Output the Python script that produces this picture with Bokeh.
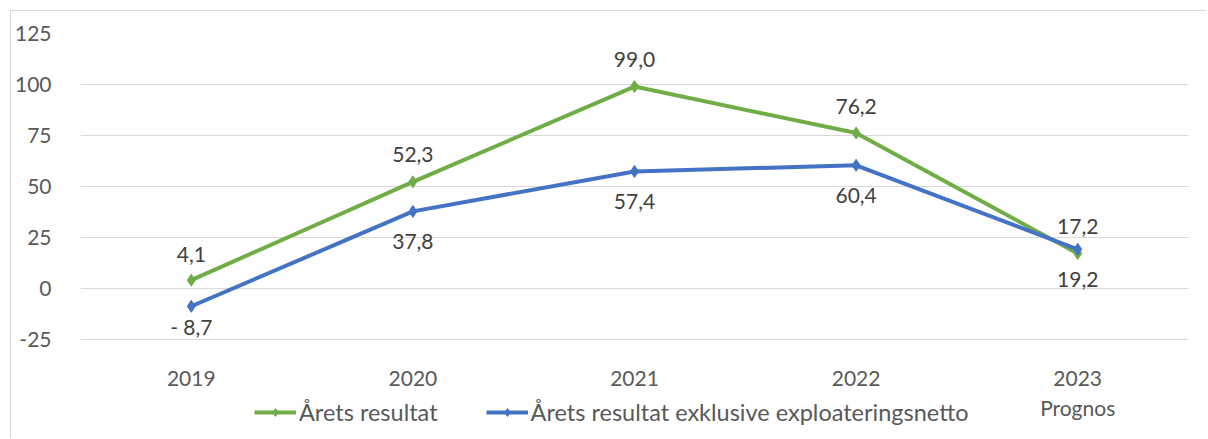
from bokeh.plotting import figure
from bokeh.models import ColumnDataSource, FixedTicker, Legend, LegendItem, Range1d
from bokeh.core.properties import value
from bokeh.embed import file_html
from bokeh.resources import INLINE

years = ["2019", "2020", "2021", "2022", "2023\nPrognos"]
arets_resultat = [4.1, 52.3, 99.0, 76.2, 17.2]
exkl_exploatering = [-8.7, 37.8, 57.4, 60.4, 19.2]
labels_green = ["4,1", "52,3", "99,0", "76,2", "17,2"]
labels_blue = ["- 8,7", "37,8", "57,4", "60,4", "19,2"]
y_ticks = [-25, 0, 25, 50, 75, 100, 125]

# label offsets (style, in screen pixels)
green_label_offsets = [-26, -27, -27, -27, -27]
blue_label_offsets = [20, 30, 30, 30, 30]

GREEN = "#70AD47"
BLUE = "#4472C4"
FONT = "Lato"
FS = "21px"

xs = list(range(len(years)))
src_g = ColumnDataSource(dict(x=xs, y=arets_resultat, t=labels_green, off=green_label_offsets))
src_b = ColumnDataSource(dict(x=xs, y=exkl_exploatering, t=labels_blue, off=blue_label_offsets))

p = figure(width=1196, height=428, output_backend="svg", toolbar_location=None,
           x_range=Range1d(-0.5, 4.5), y_range=Range1d(-74, 125),
           min_border_left=68, min_border_right=19, min_border_top=22, min_border_bottom=0,
           margin=(10, 0, 0, 10))
p.styles = {"border-top": "1px solid #d9d9d9", "border-left": "1px solid #d9d9d9"}
p.outline_line_color = None
p.background_fill_color = "white"

# axes
p.yaxis.ticker = FixedTicker(ticks=y_ticks)
p.yaxis.major_label_overrides = {t: str(t) for t in y_ticks}
p.yaxis.axis_line_color = None
p.yaxis.major_tick_line_color = None
p.yaxis.minor_tick_line_color = None
p.yaxis.major_label_text_font = FONT
p.yaxis.major_label_text_font_size = FS
p.yaxis.major_label_text_color = "#595959"
p.yaxis.major_label_standoff = 23

p.xaxis.fixed_location = y_ticks[0]
p.xaxis.ticker = FixedTicker(ticks=xs)
p.xaxis.major_label_overrides = {i: years[i] for i in xs}
p.xaxis.axis_line_color = None
p.xaxis.major_tick_line_color = None
p.xaxis.minor_tick_line_color = None
p.xaxis.major_label_text_font = FONT
p.xaxis.major_label_text_font_size = FS
p.xaxis.major_label_text_color = "#595959"
p.xaxis.major_label_standoff = 19

p.xgrid.grid_line_color = None
p.ygrid.grid_line_color = "#d9d9d9"
p.ygrid.grid_line_width = 1

# lines
lg = p.line("x", "y", source=src_g, line_color=GREEN, line_width=4)
mg = p.scatter("x", "y", source=src_g, marker="diamond", size=12, color=GREEN)
lb = p.line("x", "y", source=src_b, line_color=BLUE, line_width=4)
mb = p.scatter("x", "y", source=src_b, marker="diamond", size=12, color=BLUE)

# data labels
p.text("x", "y", text="t", source=src_g, text_align="center", text_baseline="middle",
       y_offset="off", text_font=value(FONT), text_font_size=FS, text_color="#404040")
p.text("x", "y", text="t", source=src_b, text_align="center", text_baseline="middle",
       y_offset="off", text_font=value(FONT), text_font_size=FS, text_color="#404040")

legend = Legend(items=[LegendItem(label="Årets resultat", renderers=[lg, mg]),
                       LegendItem(label="Årets resultat exklusive exploateringsnetto", renderers=[lb, mb])],
                orientation="horizontal", location=(174, 13),
                label_text_font=FONT, label_text_font_size="23.5px", label_text_color="#595959",
                glyph_width=42, label_standoff=3, spacing=48, padding=0, margin=0,
                border_line_color=None, background_fill_alpha=0)
p.add_layout(legend, "center")

open("out.html", "w").write(file_html(p, INLINE))
